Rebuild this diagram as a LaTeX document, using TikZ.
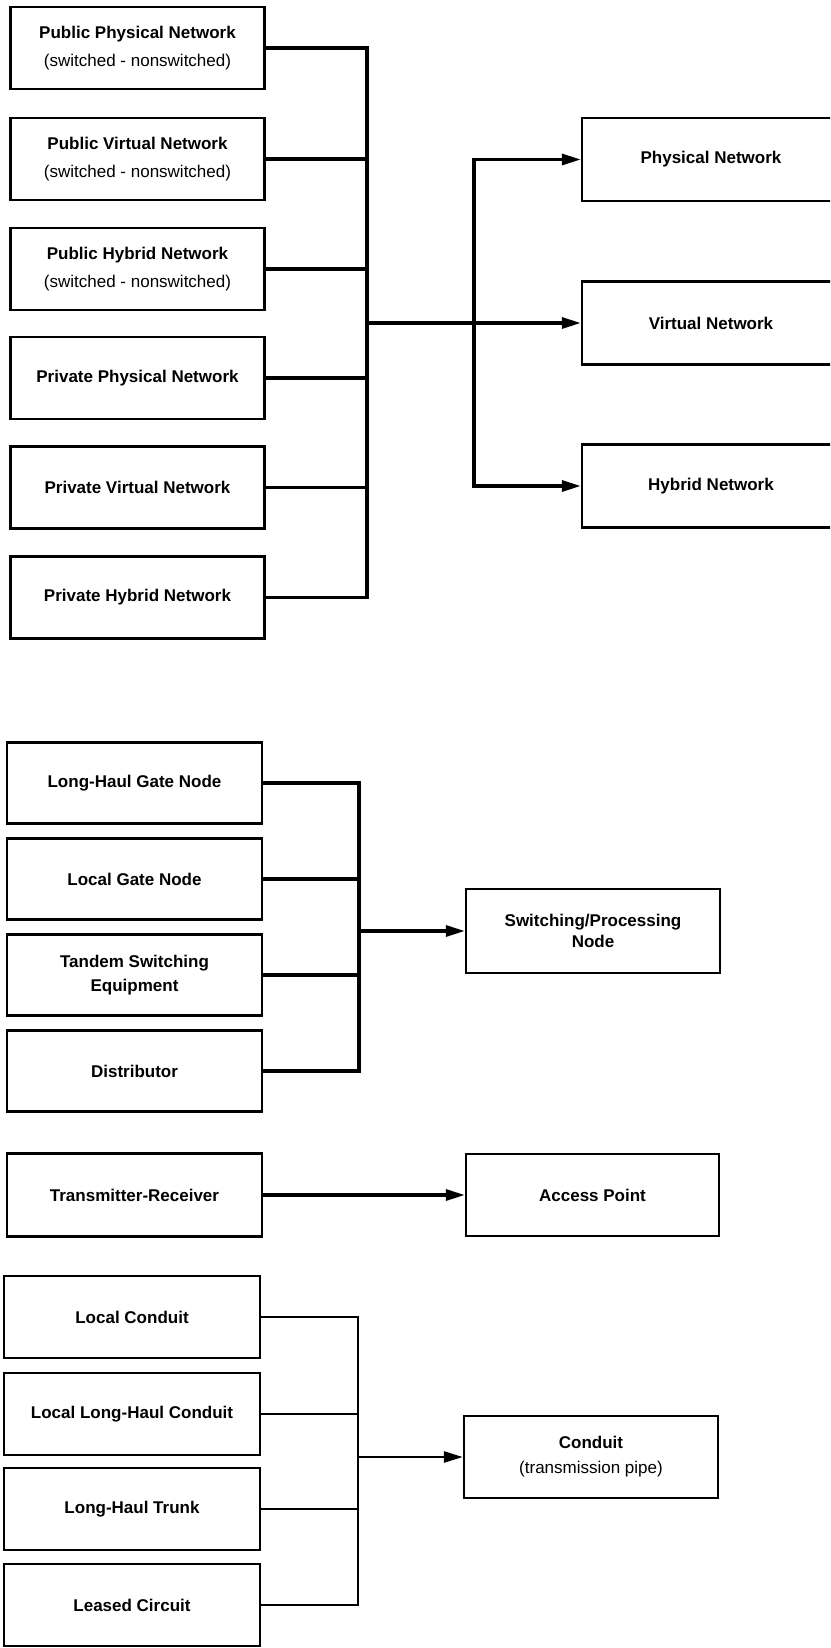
\documentclass[tikz,border=0pt]{standalone}
\usepackage{fontspec}
\setmainfont{Liberation Sans}
\usetikzlibrary{arrows.meta}
\begin{document}
\begin{tikzpicture}[x=1pt,y=-1pt,
  lbox/.style={draw, line width=2.4pt, minimum width=254pt, minimum height=82pt,
    inner sep=0pt, align=center,
    font=\fontsize{17}{28}\selectfont\bfseries},
  wide/.style={lbox, minimum width=258pt, minimum height=83pt},
  tight/.style={font=\fontsize{17}{21}\selectfont\bfseries},
  mid/.style={font=\fontsize{17}{24}\selectfont\bfseries},
  wire/.style={line width=3.2pt},
  thinwire/.style={line width=2.6pt},
  feed/.style={wire, -{Triangle[length=19pt,width=11pt]}},
  thinfeed/.style={thinwire, -{Triangle[length=19pt,width=11pt]}}]

\clip (0,0) rectangle (830,1648);
\fill[white] (0,0) rectangle (830,1648);

% ---- network types ----
\node[lbox] (pubphys) at (137.5,48)  {Public Physical Network\\{\mdseries (switched - nonswitched)}};
\node[lbox] (pubvirt) at (137.5,159) {Public Virtual Network\\{\mdseries (switched - nonswitched)}};
\node[lbox] (pubhyb)  at (137.5,269) {Public Hybrid Network\\{\mdseries (switched - nonswitched)}};
\node[lbox] (privphys) at (137.5,378) {Private Physical Network};
\node[lbox] (privvirt) at (137.5,487.5) {Private Virtual Network};
\node[lbox] (privhyb)  at (137.5,597.5) {Private Hybrid Network};

\node[wide] (phys) at (711,159.5) {Physical Network};
\node[wide] (virt) at (711,323)   {Virtual Network};
\node[wide] (hyb)  at (711,486)   {Hybrid Network};

\coordinate (busA)  at (367,323);
\coordinate (forkA) at (474,323);
\foreach \n in {pubphys,pubvirt,pubhyb,privphys,privvirt,privhyb}
  \draw[wire] (\n.east) -| (busA);
\draw[feed] (busA) -- (virt.west);
\draw[feed] (forkA) |- (phys.west);
\draw[feed] (forkA) |- (hyb.west);

% ---- switching / processing ----
\node[lbox, minimum width=255pt, minimum height=81pt] (lhgate) at (134.5,783) {Long-Haul Gate Node};
\node[lbox, minimum width=255pt, minimum height=81pt] (lgate)  at (134.5,879) {Local Gate Node};
\node[lbox, mid, minimum width=255pt, minimum height=81pt] (tandem) at (134.5,975) {Tandem Switching\\Equipment};
\node[lbox, minimum width=255pt, minimum height=81pt] (distr)  at (134.5,1071) {Distributor};
\node[lbox, tight, minimum height=84pt] (swnode) at (593,931) {Switching/Processing\\Node};

\coordinate (busB) at (359,931);
\foreach \n in {lhgate,lgate,tandem,distr}
  \draw[wire] (\n.east) -| (busB);
\draw[feed] (busB) -- (swnode.west);

% ---- access ----
\node[lbox, minimum width=255pt, minimum height=83pt] (trx) at (134.5,1195) {Transmitter-Receiver};
\node[lbox, minimum width=253pt] (ap) at (592.5,1195) {Access Point};
\draw[feed] (trx.east) -- (ap.west);

% ---- conduits ----
\node[lbox, minimum width=256pt] (lcond)  at (132,1317) {Local Conduit};
\node[lbox, minimum width=256pt] (llcond) at (132,1414) {Local Long-Haul Conduit};
\node[lbox, minimum width=256pt] (lhtrunk) at (132,1509) {Long-Haul Trunk};
\node[lbox, minimum width=256pt] (leased) at (132,1605) {Leased Circuit};
\node[lbox, font=\fontsize{17}{25}\selectfont\bfseries] (conduit) at (591,1457) {Conduit\\{\mdseries (transmission pipe)}};

\coordinate (busC) at (358,1457);
\foreach \n in {lcond,llcond,lhtrunk,leased}
  \draw[thinwire] (\n.east) -| (busC);
\draw[thinfeed] (busC) -- (conduit.west);
\end{tikzpicture}
\end{document}
